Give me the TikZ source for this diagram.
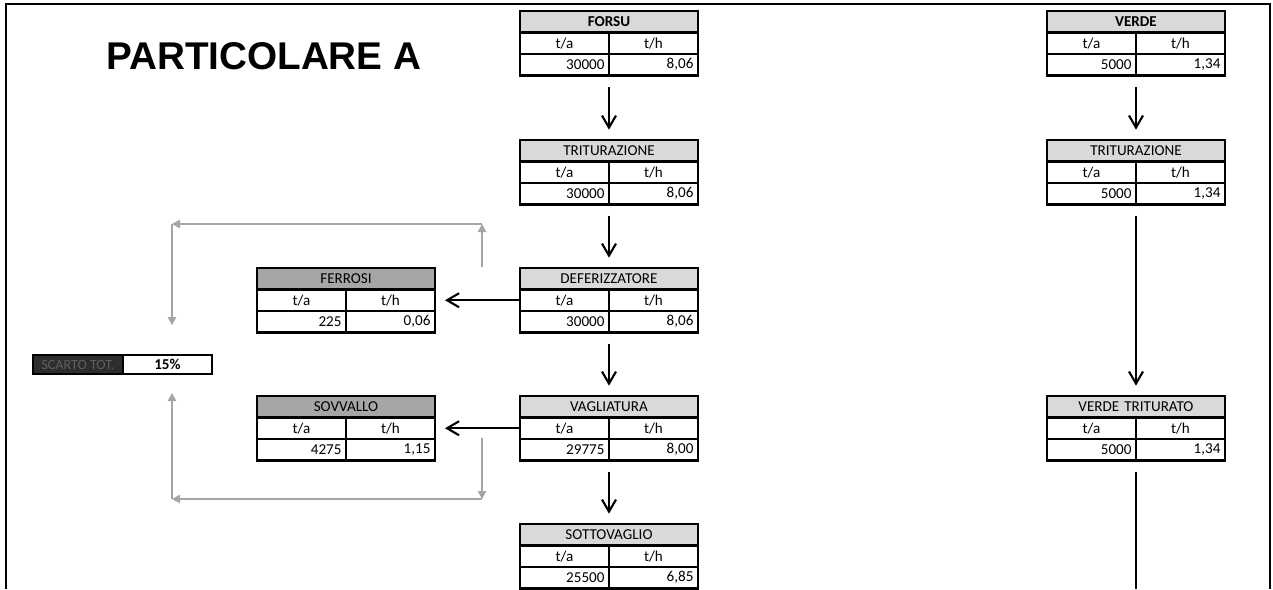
\documentclass[tikz,border=0pt]{standalone}
\usepackage{fontspec}
\setmainfont{Carlito}
\newfontfamily\titlefont{Liberation Sans}
\usetikzlibrary{arrows.meta,positioning,fit}
\definecolor{hdrlight}{RGB}{217,217,217}
\definecolor{hdrdark}{RGB}{166,166,166}
\definecolor{backgray}{RGB}{165,165,165}
\definecolor{scartofill}{RGB}{45,45,45}
\definecolor{scartotext}{RGB}{95,95,95}

\tikzset{
  cell/.style={draw=black, line width=1.3pt, outer sep=0pt, inner sep=0pt, minimum width=1.78cm, minimum height=0.43cm, text width=1.6cm, align=center, font=\fontsize{8.6}{10}\selectfont},
  numcell/.style={cell, align=right},
  hdr/.style={cell, minimum width=3.56cm, text width=3.4cm, fill=hdrlight},
  hdrd/.style={hdr, fill=hdrdark},
  flow/.style={draw=black, line width=1.2pt, -{Straight Barb[length=0.24cm,width=0.28cm]}},
  flowdown/.style={flow, shorten <=0.22cm, shorten >=0.2cm},
  back/.style={draw=backgray, line width=0.7pt, -{Triangle[length=0.16cm,width=0.17cm]}},
}

% one table: name, top left corner, title, t/a, t/h, header style
\newcommand{\flowtable}[6]{%
  \node[#6, anchor=north west] (#1-h) at (#2) {#3};
  \node[cell, anchor=north west] (#1-la) at (#1-h.south west) {t/a};
  \node[cell, anchor=north east] (#1-lh) at (#1-h.south east) {t/h};
  \node[numcell, anchor=north west] (#1-va) at (#1-la.south west) {#4};
  \node[numcell, anchor=north east] (#1-vh) at (#1-lh.south east) {#5};
  \node[fit=(#1-h)(#1-va)(#1-vh), inner sep=0pt] (#1) {};
}

\begin{document}
\begin{tikzpicture}[x=0.02cm, y=-0.02cm]
  \useasboundingbox (0,0) rectangle (1273,589);
  \draw[line width=1.1pt] (6,589) -- (6,4) -- (1270,4) -- (1270,589);

  \node[anchor=base west, inner sep=0pt, font=\titlefont\bfseries\fontsize{22}{26}\selectfont] (title) at (106,69) {PARTICOLARE A};

  % main line
  \flowtable{forsu}{520,11}{\textbf{FORSU}}{30000}{8,06}{hdr}
  \flowtable{tritA}{520,140}{TRITURAZIONE}{30000}{8,06}{hdr}
  \flowtable{defer}{520,268}{DEFERIZZATORE}{30000}{8,06}{hdr}
  \flowtable{vagl}{520,396}{VAGLIATURA}{29775}{8,00}{hdr}
  \flowtable{sottov}{520,524}{SOTTOVAGLIO}{25500}{6,85}{hdr}

  % scarti
  \flowtable{ferrosi}{257,268}{FERROSI}{225}{0,06}{hdrd}
  \flowtable{sovvallo}{257,396}{SOVVALLO}{4275}{1,15}{hdrd}

  % verde
  \flowtable{verde}{1047,11}{\textbf{VERDE}}{5000}{1,34}{hdr}
  \flowtable{tritB}{1047,140}{TRITURAZIONE}{5000}{1,34}{hdr}
  \flowtable{vtrit}{1047,396}{VERDE TRITURATO}{5000}{1,34}{hdr}

  \node[draw=black, line width=1.3pt, fill=scartofill, outer sep=0pt, inner sep=0pt, minimum width=1.8cm, minimum height=0.38cm, font=\fontsize{8}{9}\selectfont, text=scartotext, anchor=north west] (scarto) at (33,355) {SCARTO TOT.};
  \node[draw=black, line width=1.3pt, outer sep=0pt, inner sep=0pt, minimum width=1.78cm, minimum height=0.38cm, font=\fontsize{8.6}{10}\selectfont\bfseries, anchor=west] (scartoval) at (scarto.east) {15\%};

  \draw[flowdown] (forsu.south) -- (tritA.north);
  \draw[flowdown] (tritA.south) -- (defer.north);
  \draw[flowdown] (defer.south) -- (vagl.north);
  \draw[flowdown] (vagl.south) -- (sottov.north);
  \draw[flow, shorten >=0.2cm] (defer-la.west) -- (ferrosi-lh.east);
  \draw[flow, shorten >=0.2cm] (vagl-la.west) -- (sovvallo-lh.east);

  \draw[flowdown] (verde.south) -- (tritB.north);
  \draw[flowdown] (tritB.south) -- (vtrit.north);
  \coordinate (vtEnd) at (vtrit.south |- 0,589);
  \draw[line width=1.2pt, shorten <=0.22cm] (vtrit.south) -- (vtEnd);

  % ritorni allo scarto
  \coordinate (up1) at (482,267);
  \coordinate (up2) at (482,224);
  \coordinate (up3) at (172,224);
  \coordinate (up4) at (172,325);
  \draw[back] (up1) -- (up2);
  \draw[back] (up2) -- (up3);
  \draw[back] (up3) -- (up4);
  \coordinate (lo1) at (482,438);
  \coordinate (lo2) at (482,499);
  \coordinate (lo3) at (172,499);
  \coordinate (lo4) at (172,393);
  \draw[back] (lo1) -- (lo2);
  \draw[back] (lo2) -- (lo3);
  \draw[back] (lo3) -- (lo4);
\end{tikzpicture}
\end{document}
